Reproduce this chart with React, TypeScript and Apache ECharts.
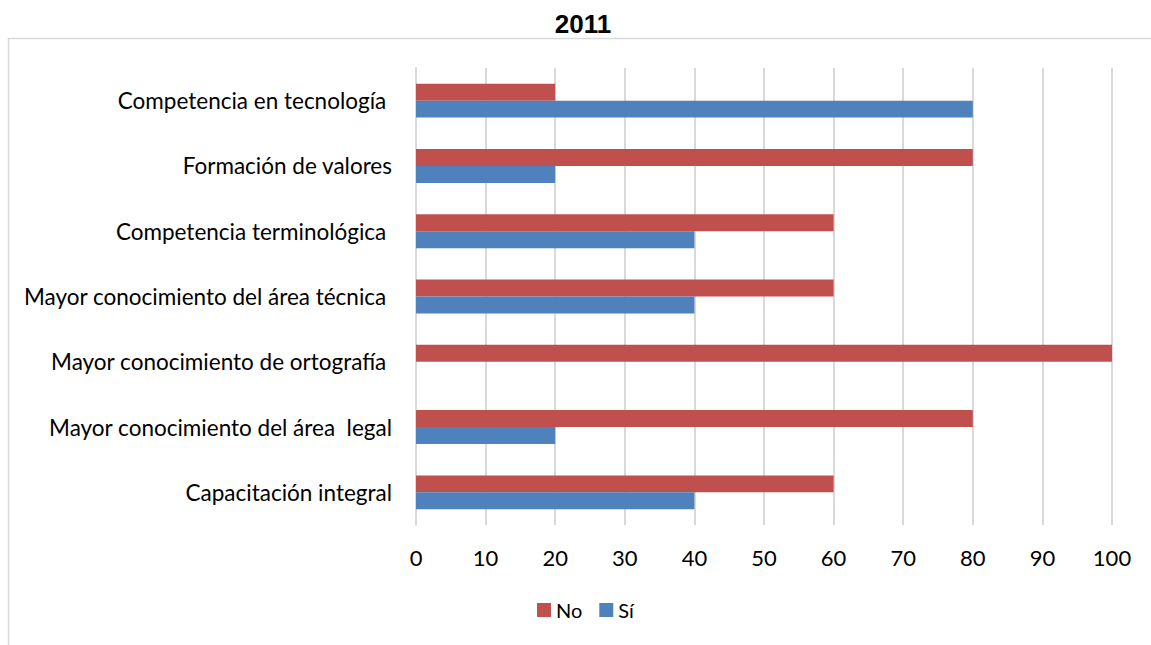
import React, { useEffect, useRef } from "react";
import * as echarts from "echarts";

const categories = [
  "Capacitación integral",
  "Mayor conocimiento del área  legal",
  "Mayor conocimiento de ortografía ",
  "Mayor conocimiento del área técnica ",
  "Competencia terminológica ",
  "Formación de valores",
  "Competencia en tecnología ",
];
const noValues = [60, 80, 100, 60, 60, 80, 20];
const siValues = [40, 20, 0, 40, 40, 20, 80];
const seriesNames = ["No", "Sí"];
const titleText = "2011";

const FONT = "Lato, 'Noto Sans', sans-serif";

export default function App() {
  const ref = useRef<HTMLDivElement>(null);
  useEffect(() => {
    document.body.style.margin = "0";
    const chart = echarts.init(ref.current!, null, { renderer: "svg" });
    chart.setOption({
      animation: false,
      backgroundColor: "#ffffff",
      title: {
        text: titleText,
        left: 578,
        textAlign: "center",
        top: 6,
        textStyle: { fontFamily: "'Liberation Sans', Arial, sans-serif", fontWeight: "bold", fontSize: 26, color: "#000" },
      },
      graphic: [
        { type: "line", shape: { x1: 8, y1: 38.5, x2: 1151, y2: 38.5 }, style: { stroke: "#d9d9d9", lineWidth: 1.5 } },
        { type: "line", shape: { x1: 8.5, y1: 38, x2: 8.5, y2: 645 }, style: { stroke: "#d9d9d9", lineWidth: 1.5 } },
      ],
      legend: {
        data: seriesNames,
        top: 600,
        left: 537,
        padding: 0,
        itemWidth: 14,
        itemHeight: 14,
        itemGap: 17,
        icon: "rect",
        textStyle: { fontFamily: FONT, fontSize: 20, color: "#000" },
      },
      grid: { left: 416, right: 39, top: 68, bottom: 120, containLabel: false },
      xAxis: {
        type: "value",
        min: 0,
        max: 100,
        interval: 10,
        axisLine: { show: false },
        axisTick: { show: false },
        axisLabel: { fontFamily: FONT, fontSize: 22, color: "#000", margin: 21 },
        splitLine: { lineStyle: { color: "#d9d9d9", width: 2 } },
      },
      yAxis: {
        type: "category",
        data: categories,
        axisLine: { lineStyle: { color: "#d9d9d9", width: 2 } },
        axisTick: { show: false },
        axisLabel: { fontFamily: FONT, fontSize: 22.5, color: "#000", margin: 24 },
      },
      series: [
        { name: "No", type: "bar", data: noValues, itemStyle: { color: "#C0504D" }, barCategoryGap: "48%", barGap: "0%" },
        { name: "Sí", type: "bar", data: siValues, itemStyle: { color: "#4F81BD" }, barCategoryGap: "48%", barGap: "0%" },
      ],
    });
    return () => chart.dispose();
  }, []);
  return <div ref={ref} style={{ position: "absolute", left: 0, top: 0, width: 1151, height: 645 }} />;
}
